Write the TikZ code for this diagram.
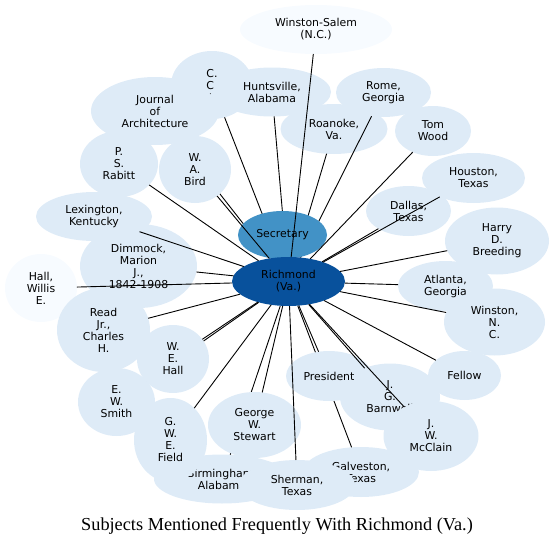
\documentclass[tikz,border=0pt]{standalone}
\usepackage{fontspec}
\usetikzlibrary{shapes.geometric}
\newfontfamily\labelfont{DejaVu Sans}
\newfontfamily\titlefont{Liberation Serif}
\definecolor{paleblue}{HTML}{F7FBFF}
\definecolor{lightblue}{HTML}{DEEBF7}
\definecolor{midblue}{HTML}{4292C6}
\definecolor{deepblue}{HTML}{08519C}
\pgfdeclarelayer{ring}
\pgfdeclarelayer{under}
\pgfdeclarelayer{over}
\pgfsetlayers{ring,under,main,over}
\newcommand\bubble[6][lightblue]{\node [subject, fill=#1, minimum width=#4, minimum height=#5] (#2) at #3 {#6};}

\begin{document}
\begin{tikzpicture}[x=1pt, y=-1pt,
    subject/.style={ellipse, inner sep=0pt, outer sep=0pt, align=center,
      font=\labelfont\fontsize{10.9}{12}\selectfont},
    link/.style={line width=0.9pt}]
  \useasboundingbox (0,0) rectangle (555,546);

  \begin{pgfonlayer}{ring}
    \bubble[paleblue]{winsalem}{(316,29.5)}{152}{49}{Winston-Salem\\(N.C.)}
    \bubble{cc}{(212,85)}{82}{68}{C.\\C.\\I.}
    \bubble{journal}{(155,111)}{128}{68}{Journal\\of\\Architecture}
    \bubble{huntsville}{(272,92)}{118}{49}{Huntsville,\\Alabama}
    \bubble{rome}{(383.5,92.5)}{95}{49}{Rome,\\Georgia}
    \bubble{roanoke}{(334,129)}{107}{50}{Roanoke,\\Va.}
    \bubble{tomwood}{(433,131)}{76}{50}{Tom\\Wood}
    \bubble{rabitt}{(119,164)}{78}{66}{P.\\S.\\Rabitt}
    \bubble{lexington}{(94,216.5)}{116}{49}{Lexington,\\Kentucky}
    \bubble{dimmock}{(138.5,266)}{117}{84}{Dimmock,\\Marion\\J.,\\1842-1908}
    \bubble[paleblue]{hallwillis}{(41,288)}{72}{68}{Hall,\\Willis\\E.}
    \bubble{read}{(103.5,330)}{93}{84}{Read\\Jr.,\\Charles\\H.}
    \bubble{smith}{(116.5,402)}{77}{68}{E.\\W.\\Smith}
    \bubble{birmingham}{(222,479)}{136}{49}{Birmingham,\\Alabama}
    \bubble{galveston}{(361,472)}{116}{50}{Galveston,\\Texas}
    \bubble{houston}{(473.5,178)}{103}{50}{Houston,\\Texas}
    \bubble{dallas}{(408.5,211)}{85}{50}{Dallas,\\Texas}
    \bubble{breeding}{(497,241)}{104}{67}{Harry\\D.\\Breeding}
    \bubble{atlanta}{(445.5,286)}{95}{50}{Atlanta,\\Georgia}
    \bubble{winston}{(494.5,322)}{101}{67}{Winston,\\N.\\C.}
    \bubble{fellow}{(464.5,375.5)}{73}{49}{Fellow}
    \bubble{barnwell}{(390,397)}{100}{67}{J.\\G.\\Barnwell}
  \end{pgfonlayer}

  % these cover some of the spokes
  \bubble[midblue]{secretary}{(282.5,235)}{89}{48}{Secretary}
  \bubble{bird}{(195,169.5)}{72}{67}{W.\\A.\\Bird}
  \bubble{wehall}{(173,359)}{72}{68}{W.\\E.\\Hall}
  \bubble{stewart}{(254.5,425)}{93}{66}{George\\W.\\Stewart}
  \bubble{president}{(329,376)}{86}{50}{President}
  \bubble{field}{(170.5,440)}{73}{84}{G.\\W.\\E.\\Field}
  \bubble{sherman}{(297,485)}{116}{50}{Sherman,\\Texas}
  \bubble{mcclain}{(431,436)}{95}{70}{J.\\W.\\McClain}
  \bubble[deepblue]{richmond}{(288.5,281.5)}{113}{49}{Richmond\\(Va.)}

  \begin{pgfonlayer}{under}
    \foreach \s in {cc, huntsville, roanoke, rome, journal, smith, birmingham, galveston}
      \draw [link] (richmond) -- (\s);
  \end{pgfonlayer}

  \begin{pgfonlayer}{over}
    \foreach \s in {winsalem, tomwood, houston, dallas, breeding, atlanta, winston,
        fellow, mcclain, barnwell, president, sherman, stewart, field, wehall,
        read, hallwillis, dimmock, lexington, rabitt, bird}
      \draw [link] (richmond) -- (\s);
  \end{pgfonlayer}

  \node [anchor=base, font=\titlefont\fontsize{18.3}{20}\selectfont] (caption) at (277,530.7)
    {Subjects Mentioned Frequently With Richmond (Va.)};
\end{tikzpicture}
\end{document}
